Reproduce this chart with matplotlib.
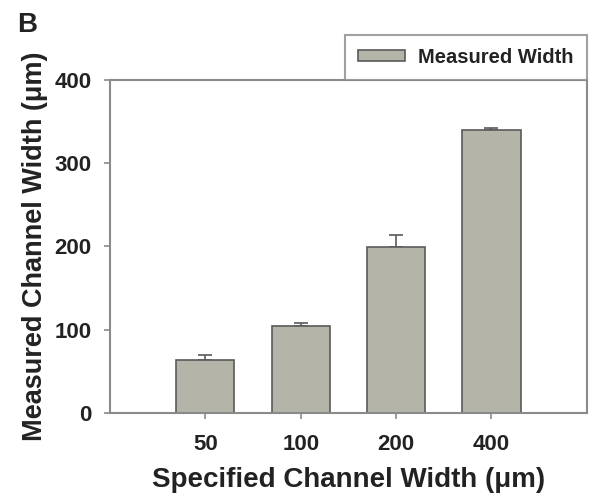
import matplotlib
matplotlib.use("Agg")
import matplotlib.pyplot as plt

plt.rcParams['font.family'] = ['Liberation Sans', 'DejaVu Sans']
plt.rcParams['font.weight'] = 'bold'

specified = ['50', '100', '200', '400']
measured = [64, 105, 199, 340]
err_up = [6, 3, 15, 2.5]

bar_color = '#b4b5a8'
edge_color = '#5a5a5a'
spine_color = '#8a8a8a'
text_color = '#222222'

fig = plt.figure(figsize=(5.91, 5.04), dpi=100)
ax = fig.add_axes([0.186, 0.1806, 0.807, 0.6607])

pos = [1, 2, 3, 4]
ax.bar(pos, measured, width=0.61, color=bar_color, edgecolor=edge_color,
       linewidth=1.2, label='Measured Width', zorder=2)
ax.errorbar(pos, measured, yerr=[[0] * 4, err_up], fmt='none',
            ecolor=edge_color, elinewidth=1.2, capsize=5, capthick=1.2, zorder=1)

ax.set_xlim(0, 5)
ax.set_ylim(0, 400)
ax.set_xticks(pos)
ax.set_xticklabels(specified)
ax.set_yticks([0, 100, 200, 300, 400])

for s in ax.spines.values():
    s.set_color(spine_color)
    s.set_linewidth(1.5)

ax.tick_params(axis='both', direction='out', length=4, width=1.2,
               color=spine_color, labelsize=16, labelcolor=text_color)
ax.tick_params(axis='x', pad=11)
ax.tick_params(axis='y', pad=9)

ax.set_xlabel('Specified Channel Width (μm)', fontsize=20, fontweight='bold',
              color=text_color, labelpad=9)
ax.set_ylabel('Measured Channel Width (μm)', fontsize=19.5, fontweight='bold',
              color=text_color, labelpad=5)

leg = ax.legend(loc='lower right', bbox_to_anchor=(1.0, 1.0), frameon=True,
                fancybox=False, fontsize=14.5, handlelength=2.35, handleheight=0.45,
                borderpad=0.65, borderaxespad=0.0, handletextpad=0.65)
leg.get_frame().set_edgecolor(spine_color)
leg.get_frame().set_linewidth(1.5)
for t in leg.get_texts():
    t.set_color(text_color)

fig.text(0.029, 0.976, 'B', fontsize=20, fontweight='bold', color=text_color,
         va='top', ha='left')

fig.savefig('out.png', dpi=100)
